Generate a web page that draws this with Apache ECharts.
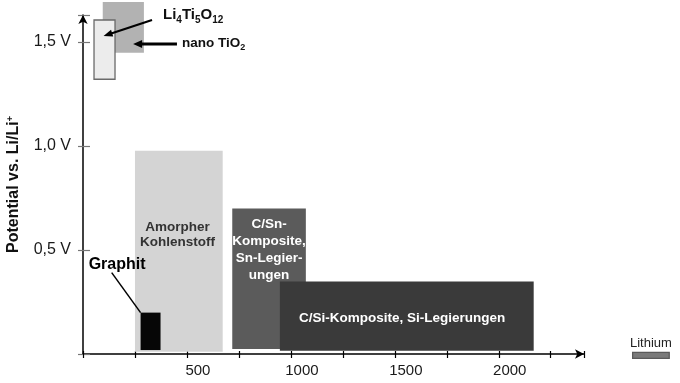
<!DOCTYPE html>
<html><head><meta charset="utf-8">
<script src="https://cdn.jsdelivr.net/npm/echarts/dist/echarts.min.js"></script>
<style>html,body{margin:0;padding:0;background:#fff}#c{width:680px;height:383px}</style>
</head><body><div id="c"></div>
<script>
// ---- data (capacity in mAh/g, potential in V vs. Li/Li+) ----
const materials = ['nano TiO2', 'Li4Ti5O12', 'Amorpher Kohlenstoff', 'Graphit',
  'C/Sn-Komposite, Sn-Legierungen', 'C/Si-Komposite, Si-Legierungen', 'Lithium'];
const capacityFrom  = [95, 53, 250, 277, 718, 947, 2644];
const capacityTo    = [293, 154, 672, 373, 1072, 2168, 2820];
const potentialFrom = [1.449, 1.321, 0.011, 0.019, 0.024, 0.016, -0.021];
const potentialTo   = [1.692, 1.606, 0.977, 0.199, 0.700, 0.348, 0.008];
const xTickValues = [500, 1000, 1500, 2000];
const xTickLabels = ['500', '1000', '1500', '2000'];
const yTickValues = [0.5, 1.0, 1.5];
const yTickLabels = ['0,5 V', '1,0 V', '1,5 V'];
const yAxisTitle = 'Potential vs. Li/Li';

// ---- styling ----
const FONT = '"Liberation Sans", Arial, Helvetica, sans-serif';
const rectStyles = [
  {fill: '#b2b2b2'},
  {fill: '#ececec', stroke: '#6a6a6a'},
  {fill: '#d4d4d4'},
  {fill: '#060606'},
  {fill: '#5b5b5b'},
  {fill: '#3a3a3a'},
  {fill: '#7a7a7a', stroke: '#5a5a5a'}
];
// labels inside / next to the rectangles, anchored in data coordinates
const innerLabels = [
  null,
  null,
  {text: 'Amorpher\nKohlenstoff', at: [455, 0.572], color: '#333', size: 13.5, weight: 'bold', lh: 15},
  null,
  {text: 'C/Sn-\nKomposite,\nSn-Legier-\nungen', at: [895, 0.50], color: '#fff', size: 13.5, weight: 'bold', lh: 17},
  {text: 'C/Si-Komposite, Si-Legierungen', at: [1535, 0.173], color: '#fff', size: 13.5, weight: 'bold', lh: 15},
  {text: 'Lithium', at: [2732, 0.053], color: '#222', size: 13, weight: 'normal', lh: 14}
];
const annotations = [
  {rich: '{b|Li}{s|4}{b|Ti}{s|5}{b|O}{s|12}', at: [385, 1.623], align: 'left',
   styles: {b: {fontSize: 15, fontWeight: 'bold', lineHeight: 18, verticalAlign: 'top', fontFamily: FONT, fill: '#111'},
            s: {fontSize: 10, fontWeight: 'bold', lineHeight: 18, verticalAlign: 'bottom', fontFamily: FONT, fill: '#111'}},
   from: [332, 1.606], to: [99, 1.529], width: 2.2, head: [9, 7]},
  {rich: '{b|nano TiO}{s|2}', at: [476, 1.49], align: 'left',
   styles: {b: {fontSize: 13.5, fontWeight: 'bold', lineHeight: 16.5, verticalAlign: 'top', fontFamily: FONT, fill: '#111'},
            s: {fontSize: 9, fontWeight: 'bold', lineHeight: 16.5, verticalAlign: 'bottom', fontFamily: FONT, fill: '#111'}},
   from: [452, 1.49], to: [241, 1.49], width: 3, head: [9, 8]},
  {rich: '{g|Graphit}', at: [164, 0.428], align: 'center',
   styles: {g: {fontSize: 16, fontWeight: 'bold', lineHeight: 16, fontFamily: FONT, fill: '#000'}},
   from: [138, 0.391], to: [277, 0.199], width: 1.5, head: null}
];

const rectData = materials.map((m, i) => [capacityFrom[i], capacityTo[i], potentialFrom[i], potentialTo[i]]);

function renderRect(params, api) {
  const i = params.dataIndex;
  const p1 = api.coord([api.value(0), api.value(3)]);
  const p2 = api.coord([api.value(1), api.value(2)]);
  const st = rectStyles[i];
  const children = [{
    type: 'rect',
    shape: {x: p1[0], y: p1[1], width: p2[0] - p1[0], height: p2[1] - p1[1]},
    style: {fill: st.fill, stroke: st.stroke || null, lineWidth: st.stroke ? 1.3 : 0}
  }];
  const lab = innerLabels[i];
  if (lab) {
    const c = api.coord(lab.at);
    children.push({
      type: 'text', x: c[0], y: c[1],
      style: {text: lab.text, fill: lab.color, fontSize: lab.size, fontWeight: lab.weight,
        fontFamily: FONT, lineHeight: lab.lh, align: 'center', verticalAlign: 'middle'}
    });
  }
  return {type: 'group', children};
}

function renderAnno(params, api) {
  const a = annotations[params.dataIndex];
  const f = api.coord(a.from), t = api.coord(a.to);
  const children = [];
  let end = t;
  if (a.head) {
    const dx = t[0] - f[0], dy = t[1] - f[1];
    const L = Math.hypot(dx, dy), ux = dx / L, uy = dy / L;
    const bx = t[0] - ux * a.head[0], by = t[1] - uy * a.head[0];
    const w = a.head[1] / 2;
    children.push({type: 'polygon', shape: {points: [[t[0], t[1]], [bx - uy * w, by + ux * w], [bx + uy * w, by - ux * w]]},
      style: {fill: '#000'}});
    end = [bx + ux, by + uy];
  }
  children.push({type: 'line', shape: {x1: f[0], y1: f[1], x2: end[0], y2: end[1]},
    style: {stroke: '#000', lineWidth: a.width}});
  const c = api.coord(a.at);
  children.push({type: 'text', x: c[0], y: c[1],
    style: {text: a.rich, rich: a.styles, align: a.align, verticalAlign: 'middle'}});
  return {type: 'group', children};
}

const axisLineStyle = {color: '#000', width: 1.5};
const chart = echarts.init(document.getElementById('c'), null, {renderer: 'canvas'});
chart.setOption({
  animation: false,
  backgroundColor: '#fff',
  grid: {left: 83, right: 96, top: 15, bottom: 29, containLabel: false, outerBoundsMode: 'none'},
  xAxis: [{
    type: 'value', min: 0, max: 2410, interval: 250, position: 'bottom',
    axisLine: {show: true, lineStyle: axisLineStyle, symbol: ['none', 'arrow'], symbolSize: [7, 9]},
    axisTick: {show: true, length: 4, lineStyle: {color: '#000', width: 1.2}},
    axisLabel: {
      formatter: v => { const k = xTickValues.indexOf(v); return k >= 0 ? xTickLabels[k] : ''; },
      fontSize: 15, color: '#1a1a1a', fontFamily: FONT, margin: 9, padding: [0, 0, 0, 22]
    },
    splitLine: {show: false}
  }, {
    type: 'value', min: 0, max: 2410, interval: 250, position: 'bottom',
    axisLine: {show: false}, axisTick: {show: true, inside: true, length: 3, lineStyle: {color: '#000', width: 1.2}},
    axisLabel: {show: false}, splitLine: {show: false}
  }],
  yAxis: [{
    type: 'value', min: 0, max: 1.63, interval: 0.5, position: 'left',
    axisLine: {show: true, lineStyle: axisLineStyle, symbol: ['none', 'arrow'], symbolSize: [7, 9]},
    axisTick: {show: true, length: 5, lineStyle: {color: '#777', width: 1.2}},
    axisLabel: {
      formatter: v => { const k = yTickValues.findIndex(t => Math.abs(t - v) < 1e-6); return k >= 0 ? yTickLabels[k] : ''; },
      fontSize: 16, color: '#1a1a1a', fontFamily: FONT, margin: 12
    },
    splitLine: {show: false},
    name: '{b|' + yAxisTitle + '}{sup|+}', nameLocation: 'middle', nameRotate: 90, nameGap: 61,
    nameTextStyle: {
      rich: {
        b: {fontSize: 16, fontWeight: 'bold', color: '#111', fontFamily: FONT, lineHeight: 16},
        sup: {fontSize: 9, fontWeight: 'bold', color: '#111', fontFamily: FONT, lineHeight: 9, verticalAlign: 'top'}
      }
    }
  }, {
    type: 'value', min: 0, max: 1.63, interval: 0.5, position: 'left',
    axisLine: {show: false}, axisTick: {show: true, inside: true, length: 7, lineStyle: {color: '#777', width: 1.2}},
    axisLabel: {show: false}, splitLine: {show: false}
  }],
  series: [{
    type: 'custom', name: 'Materialien', xAxisIndex: 0, yAxisIndex: 0, clip: false, silent: true,
    renderItem: renderRect, data: rectData
  }, {
    type: 'custom', name: 'Beschriftungen', xAxisIndex: 0, yAxisIndex: 0, clip: false, silent: true,
    renderItem: renderAnno, data: annotations.map((a, i) => [a.at[0], a.at[1]])
  }]
});
</script>
</body></html>
